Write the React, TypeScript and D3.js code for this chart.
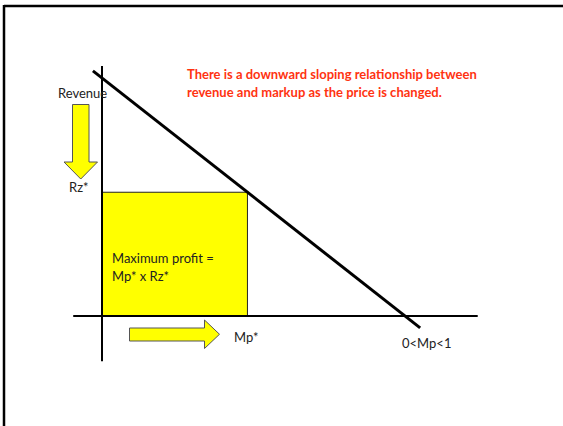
import React from "react";
import * as d3 from "d3";

// Conceptual values (markup Mp on x, revenue on y, both normalised 0..1)
const demandLine = [
  { mp: -0.03, r: 1.03 },
  { mp: 1.05, r: -0.05 },
];
const optimum = { mp: 0.48, r: 0.52 };
const xAxisExtent = [-0.095, 1.24];
const yAxisExtent = [-0.19, 1.05];
const titleLines = [
  "There is a downward sloping relationship between",
  "revenue and markup as the price is changed.",
];
const labels = {
  yName: "Revenue",
  yOpt: "Rz*",
  xOpt: "Mp*",
  xName: "0<Mp<1",
  profit: ["Maximum profit =", "Mp* x Rz*"],
};

const W = 563;
const H = 426;
const FONT = "Lato, 'Open Sans', sans-serif";

export default function App() {
  const x = d3.scaleLinear().domain([0, 1]).range([102, 405]);
  const y = d3.scaleLinear().domain([0, 1]).range([316, 78]);
  const line = d3
    .line<{ mp: number; r: number }>()
    .x((d) => x(d.mp))
    .y((d) => y(d.r));

  // down arrow geometry
  const da = { x0: 72.5, x1: 89, top: 104.5, headY: 162, hx0: 64, hx1: 97.5, tip: 179 };
  const downArrow = `M${da.x0},${da.top}H${da.x1}V${da.headY}H${da.hx1}L${(da.hx0 + da.hx1) / 2},${da.tip}L${da.hx0},${da.headY}H${da.x0}Z`;
  const ra = { left: 129.5, top: 328, bottom: 341, headX: 204.5, hy0: 320, hy1: 348.5, tip: 219.5 };
  const rightArrow = `M${ra.left},${ra.top}H${ra.headX}V${ra.hy0}L${ra.tip},${(ra.hy0 + ra.hy1) / 2}L${ra.headX},${ra.hy1}V${ra.bottom}H${ra.left}Z`;

  return (
    <svg
      width={W}
      height={H}
      style={{ position: "absolute", left: 0, top: 0, background: "#fff" }}
    >
      {/* slide frame */}
      <line x1={4} y1={6} x2={W} y2={6} stroke="#000" strokeWidth={2.5} />
      <line x1={4} y1={5} x2={4} y2={H} stroke="#000" strokeWidth={2.5} />

      {/* profit rectangle */}
      <rect
        x={x(0)}
        y={y(optimum.r)}
        width={x(optimum.mp) - x(0)}
        height={y(0) - y(optimum.r)}
        fill="#ffff00"
        stroke="#222"
        strokeWidth={1}
      />

      {/* axes */}
      <line
        x1={x(xAxisExtent[0])}
        x2={x(xAxisExtent[1])}
        y1={y(0)}
        y2={y(0)}
        stroke="#000"
        strokeWidth={2}
      />
      <line
        x1={x(0)}
        x2={x(0)}
        y1={y(yAxisExtent[0])}
        y2={y(yAxisExtent[1])}
        stroke="#000"
        strokeWidth={2}
      />

      {/* demand / revenue-markup line */}
      <path d={line(demandLine) || ""} stroke="#000" strokeWidth={3} fill="none" />

      {/* arrows */}
      <path d={downArrow} fill="#ffff00" stroke="#555" strokeWidth={1} />
      <path d={rightArrow} fill="#ffff00" stroke="#555" strokeWidth={1} />

      {/* texts */}
      <g fontFamily={FONT} fontSize={13} fill="#222">
        <text x={58} y={98}>{labels.yName}</text>
        <text x={69} y={192}>{labels.yOpt}</text>
        <text x={112} y={263}>{labels.profit[0]}</text>
        <text x={112} y={281}>{labels.profit[1]}</text>
        <text x={234} y={342}>{labels.xOpt}</text>
        <text x={402} y={348}>{labels.xName}</text>
      </g>
      <g fontFamily={FONT} fontSize={13} fontWeight="bold" fill="#ff3311">
        {titleLines.map((t, i) => (
          <text key={i} x={187} y={79 + i * 18}>
            {t}
          </text>
        ))}
      </g>
    </svg>
  );
}
